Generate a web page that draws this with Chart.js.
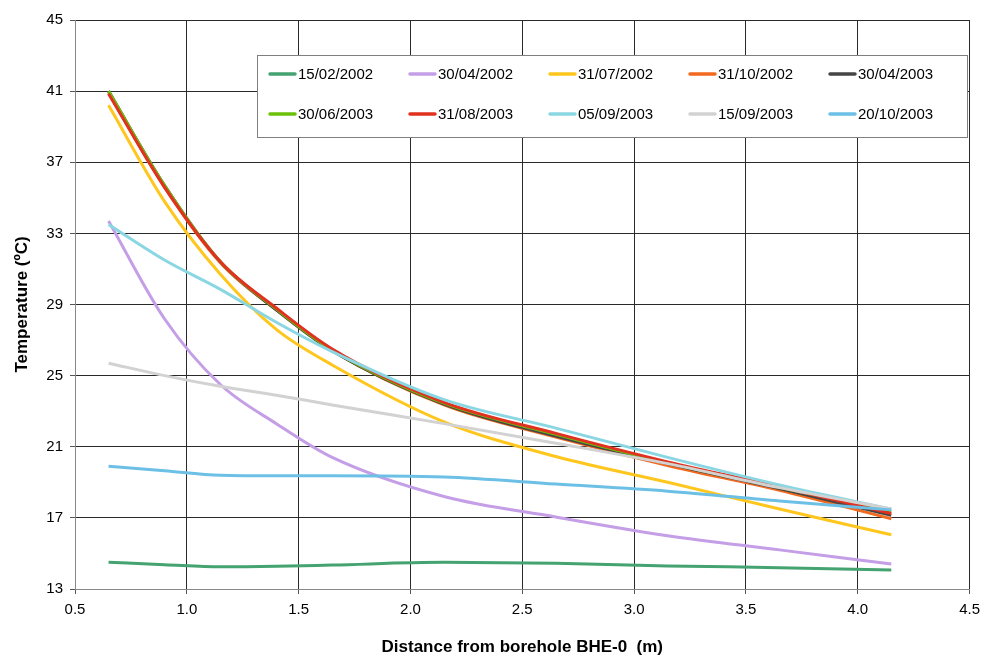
<!DOCTYPE html>
<html>
<head>
<meta charset="utf-8">
<script src="https://cdn.jsdelivr.net/npm/chart.js@4.4.1/dist/chart.umd.min.js"></script>
<style>
  html, body { margin: 0; padding: 0; background: #fff; }
  #wrap { width: 987px; height: 659px; position: relative; }
</style>
</head>
<body>
<div id="wrap"><canvas id="tempChart"></canvas></div>
<script>
// distance from borehole (m)
const distances = [0.65, 0.9, 1.15, 1.4, 1.65, 2.15, 2.65, 3.15, 3.65, 4.15];

// temperature profiles (ºC)
const t150202 = [14.5, 14.37, 14.25, 14.28, 14.35, 14.5, 14.45, 14.3, 14.2, 14.07];
const t300402 = [33.7, 28.2, 24.5, 22.3, 20.4, 18.2, 17.05, 16.0, 15.2, 14.4];
const t310702 = [40.2, 34.8, 30.7, 27.6, 25.6, 22.4, 20.45, 19.0, 17.5, 16.05];
const t311002 = [40.9, 35.6, 31.35, 28.7, 26.4, 23.35, 21.55, 19.95, 18.55, 16.95];
const t300403 = [41.0, 35.7, 31.4, 28.7, 26.4, 23.4, 21.6, 20.05, 18.65, 17.15];
const t300603 = [41.0, 35.7, 31.4, 28.75, 26.45, 23.45, 21.7, 20.1, 18.72, 17.35];
const t310803 = [40.85, 35.6, 31.4, 28.8, 26.5, 23.5, 21.75, 20.15, 18.75, 17.25];
const t050903 = [33.5, 31.5, 29.85, 28.0, 26.35, 23.65, 22.05, 20.4, 18.85, 17.5];
const t150903 = [25.7, 25.0, 24.4, 23.9, 23.35, 22.3, 21.2, 20.05, 18.7, 17.5];
const t201003 = [19.9, 19.65, 19.4, 19.37, 19.37, 19.3, 18.9, 18.5, 17.95, 17.45];

const seriesLabels = ['15/02/2002', '30/04/2002', '31/07/2002', '31/10/2002', '30/04/2003',
                      '30/06/2003', '31/08/2003', '05/09/2003', '15/09/2003', '20/10/2003'];
const seriesValues = [t150202, t300402, t310702, t311002, t300403,
                      t300603, t310803, t050903, t150903, t201003];
const seriesColors = ['#44a370', '#c49ee6', '#ffc61e', '#f26a1f', '#454545',
                      '#6bc10a', '#e0321f', '#8ad7e3', '#d2d2d2', '#6cc0e5'];

const FONT = 'Arial, "Liberation Sans", Helvetica, sans-serif';

// Excel-like boxed legend, 5 columns x 2 rows
const boxLegend = {
  id: 'boxLegend',
  afterDraw(chart) {
    const c = chart.ctx;
    const x0 = 257, y0 = 55, w = 710, h = 82;
    c.save();
    c.fillStyle = '#fff';
    c.fillRect(x0, y0, w, h);
    c.strokeStyle = '#7f7f7f';
    c.lineWidth = 1;
    c.strokeRect(x0 + 0.5, y0 + 0.5, w, h);
    c.font = '15px ' + FONT;
    c.textBaseline = 'middle';
    c.fillStyle = '#000';
    chart.data.datasets.forEach((ds, i) => {
      const col = i % 5, row = Math.floor(i / 5);
      const lx = x0 + 13 + col * 140;
      const ly = y0 + 19 + row * 40;
      c.strokeStyle = ds.borderColor;
      c.lineWidth = 3.5;
      c.lineCap = 'round';
      c.beginPath();
      c.moveTo(lx, ly);
      c.lineTo(lx + 25, ly);
      c.stroke();
      c.fillText(ds.label, lx + 28, ly + 1);
    });
    c.restore();
  }
};

const datasets = seriesLabels.map((label, i) => ({
  label: label,
  data: distances.map((d, k) => ({ x: d, y: seriesValues[i][k] })),
  borderColor: seriesColors[i],
  backgroundColor: seriesColors[i],
  borderWidth: 3,
  pointRadius: 0,
  cubicInterpolationMode: 'monotone',
  fill: false,
  order: seriesLabels.length - i
}));

new Chart(document.getElementById('tempChart'), {
  type: 'line',
  data: { datasets: datasets },
  plugins: [boxLegend],
  options: {
    responsive: true,
    maintainAspectRatio: false,
    animation: false,
    layout: { padding: { left: 0, top: 20, right: 16, bottom: 0 } },
    plugins: {
      legend: { display: false },
      tooltip: { enabled: false }
    },
    scales: {
      x: {
        type: 'linear',
        min: 0.5,
        max: 4.5,
        afterFit: s => { s.height = 70; },
        ticks: {
          stepSize: 0.5,
          padding: 7,
          color: '#000',
          font: { family: FONT, size: 15 },
          callback: v => v.toFixed(1)
        },
        grid: { color: '#2a2a2a', tickColor: '#555', tickLength: 5 },
        border: { color: '#888', width: 1 },
        title: {
          display: true,
          text: 'Distance from borehole BHE-0  (m)',
          color: '#000',
          font: { family: FONT, size: 17, weight: 'bold' },
          padding: { top: 0, bottom: 1 }
        }
      },
      y: {
        min: 13,
        max: 45,
        afterFit: s => { s.width = 75; },
        ticks: {
          stepSize: 4,
          padding: 7,
          color: '#000',
          font: { family: FONT, size: 15 }
        },
        grid: { color: '#2a2a2a', tickColor: '#555', tickLength: 5 },
        border: { color: '#888', width: 1 },
        title: {
          display: true,
          text: 'Temperature (ºC)',
          color: '#000',
          font: { family: FONT, size: 17, weight: 'bold' },
          padding: { top: 12, bottom: 0 }
        }
      }
    }
  }
});
</script>
</body>
</html>
